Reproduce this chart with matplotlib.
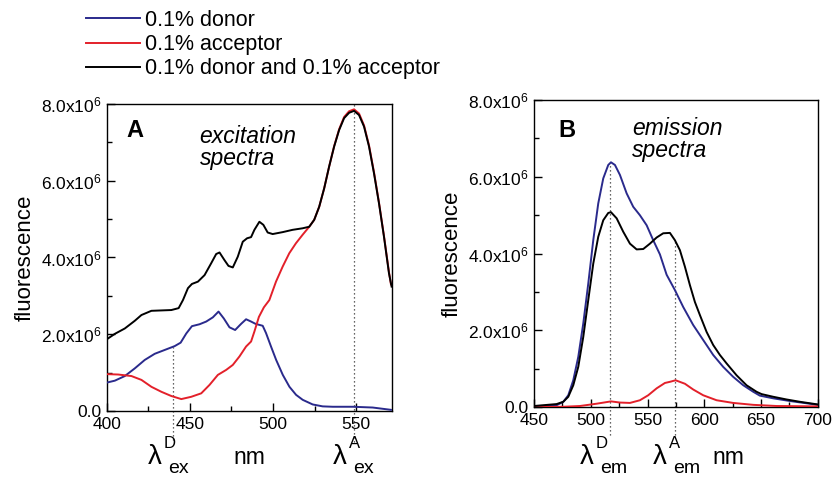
import matplotlib
matplotlib.use('Agg')
import matplotlib.pyplot as plt
from matplotlib.ticker import MultipleLocator, FuncFormatter
import numpy as np

plt.rcParams['font.family'] = ['Liberation Sans', 'DejaVu Sans']
plt.rcParams['mathtext.fontset'] = 'custom'
plt.rcParams['mathtext.rm'] = 'Liberation Sans'
plt.rcParams['mathtext.it'] = 'Liberation Sans:italic'
plt.rcParams['mathtext.default'] = 'regular'

## espectros de excitação (nm, fluorescência em 1e6)
ex_donor_nm = [400, 404.8, 410.8, 416.8, 422.8, 428.8, 434.8, 440.8, 444.4, 447.8, 451.2,
               455.8, 459.8, 463.8, 467.2, 470.4, 473.8, 477.2, 480.8, 483.8, 486.8,
               489.5, 493.8, 495.8, 498.8, 501.9, 505.9, 509.9, 513.9, 517.9, 523.9,
               529.9, 536, 548, 560, 571]
ex_donor = [0.74, 0.79, 0.91, 1.11, 1.33, 1.49, 1.59, 1.69, 1.78, 2.02, 2.21,
            2.26, 2.33, 2.44, 2.59, 2.41, 2.18, 2.11, 2.27, 2.39, 2.33,
            2.27, 2.22, 2.03, 1.68, 1.33, 0.94, 0.63, 0.42, 0.29, 0.17,
            0.12, 0.11, 0.11, 0.09, 0.03]

ex_acc_nm = [400, 406.8, 414.8, 420.8, 426.8, 432.8, 438.8, 444.8, 450.8, 456.8, 461.8,
             466.8, 471.8, 475.8, 479.8, 483.8, 486.8, 488.8, 491.5, 494.5, 497.8,
             501.8, 505.8, 509.8, 513.8, 517.8, 521.8, 524.8, 527.8, 530.8, 533.8,
             536.8, 539.8, 542.8, 545.8, 548.8, 551.8, 554.8, 557.8, 560.8, 563.8,
             566.8, 569.8, 571]
ex_acc = [0.96, 0.95, 0.91, 0.81, 0.63, 0.50, 0.39, 0.31, 0.37, 0.46, 0.68,
          0.94, 1.07, 1.20, 1.42, 1.68, 1.81, 2.07, 2.45, 2.70, 2.89,
          3.37, 3.76, 4.11, 4.37, 4.59, 4.80, 4.98, 5.32, 5.80, 6.37,
          6.90, 7.34, 7.66, 7.81, 7.86, 7.75, 7.44, 6.92, 6.22, 5.43,
          4.56, 3.62, 3.30]

ex_both_nm = [400, 404.8, 410.8, 416.8, 420.8, 426.8, 432.8, 438.8, 443.2, 445.8, 448.8,
              451.2, 454.8, 458.8, 462.8, 465.8, 467.8, 470.8, 473.2, 475.8, 478.8,
              481.8, 484.4, 486.8, 488.8, 491.8, 494.2, 496.8, 499.8, 505.8, 511.8,
              517.8, 521.8, 524.8, 527.8, 530.8, 533.8, 536.8, 539.8, 542.8, 545.8,
              548.8, 551.8, 554.8, 557.8, 560.8, 563.8, 566.8, 569.8, 571.4]
ex_both = [1.87, 2.01, 2.15, 2.35, 2.50, 2.61, 2.62, 2.63, 2.68, 2.89, 3.20,
           3.31, 3.37, 3.54, 3.85, 4.09, 4.13, 3.93, 3.78, 3.74, 4.02,
           4.41, 4.50, 4.53, 4.72, 4.93, 4.85, 4.65, 4.61, 4.66, 4.72,
           4.76, 4.80, 4.98, 5.32, 5.80, 6.37, 6.89, 7.32, 7.63, 7.77,
           7.82, 7.71, 7.41, 6.89, 6.19, 5.41, 4.54, 3.59, 3.24]

## espectros de emissão
em_donor_nm = [450, 455.3, 469.9, 475.8, 480.2, 484.6, 489.0, 493.4, 497.8, 502.2, 506.6,
               511.0, 515.4, 517.8, 521.3, 525.7, 531.6, 537.4, 543.3, 549.2, 555.0,
               560.9, 566.8, 574.1, 581.4, 590.2, 599.0, 607.8, 616.6, 625.4, 634.3,
               643.1, 648.9, 660.7, 675.3, 700]
em_donor = [0.02, 0.02, 0.05, 0.14, 0.31, 0.70, 1.31, 2.18, 3.22, 4.35, 5.31,
            5.96, 6.31, 6.38, 6.31, 6.05, 5.57, 5.22, 5.00, 4.74, 4.35,
            3.98, 3.45, 3.05, 2.61, 2.14, 1.75, 1.36, 1.05, 0.79, 0.57,
            0.40, 0.30, 0.23, 0.16, 0.06]

em_acc_nm = [450, 475.8, 490.5, 505.2, 517.8, 525.7, 534.5, 543.3, 550.6, 558.0, 565.3,
             569.7, 574.7, 582.9, 590.2, 599.0, 610.8, 625.4, 643.1, 663.6, 700]
em_acc = [0.0, 0.01, 0.03, 0.09, 0.15, 0.12, 0.11, 0.18, 0.31, 0.49, 0.63,
          0.66, 0.70, 0.61, 0.46, 0.31, 0.18, 0.11, 0.06, 0.03, 0.02]

em_both_nm = [450, 469.9, 475.8, 480.2, 484.6, 489.0, 493.4, 497.8, 502.2, 506.6, 511.0,
              515.4, 517.8, 522.8, 528.6, 534.5, 540.4, 546.2, 552.1, 558.0, 563.8,
              569.7, 574.1, 578.5, 582.9, 587.3, 591.7, 596.1, 602.0, 607.8, 613.7,
              619.6, 628.4, 637.2, 646.0, 650.4, 660.7, 672.4, 684.1, 700]
em_both = [0.03, 0.08, 0.14, 0.27, 0.57, 1.05, 1.83, 2.79, 3.74, 4.44, 4.87,
           5.06, 5.08, 4.92, 4.57, 4.26, 4.11, 4.12, 4.26, 4.42, 4.53,
           4.54, 4.35, 4.09, 3.66, 3.18, 2.74, 2.40, 1.96, 1.62, 1.36,
           1.14, 0.83, 0.57, 0.40, 0.34, 0.27, 0.20, 0.14, 0.07]

labels = ['0.1% donor', '0.1% acceptor', '0.1% donor and 0.1% acceptor']
colores = ['#2a2a8c', '#e3202a', 'black']

lam_ex_D, lam_ex_A = 440, 549
lam_em_D, lam_em_A = 517, 574.5

escala = 1e6
W, H = 835, 479


def formato_y(v, pos):
    if v == 0:
        return '0.0'
    return f'{v / escala:.1f}x10$^{{6}}$'


def estilo_eixo(ax, xmin, xmax, xmaj, xmin_step):
    ax.set_xlim(xmin, xmax)
    ax.set_ylim(0, 8e6)
    ax.xaxis.set_major_locator(MultipleLocator(xmaj))
    ax.xaxis.set_minor_locator(MultipleLocator(xmin_step))
    ax.yaxis.set_major_locator(MultipleLocator(2e6))
    ax.yaxis.set_minor_locator(MultipleLocator(1e6))
    ax.yaxis.set_major_formatter(FuncFormatter(formato_y))
    ax.tick_params(which='both', direction='in', labelsize=12.5, width=1, pad=4)
    ax.tick_params(which='major', length=6)
    ax.tick_params(which='minor', length=3.5)
    ax.set_ylabel('fluorescence', fontsize=16, labelpad=4)
    for s in ax.spines.values():
        s.set_linewidth(1)


def linha_pontilhada(ax, x, ytopo, ybase):
    ax.plot([x, x], [ybase, ytopo], color='#333333', linestyle=(0, (1, 2.2)),
            linewidth=0.9, clip_on=False, zorder=1)


def rotulo_lambda(x, base, sup, sub):
    # λ com índice superior e inferior, posições em pixels da figura
    fig.text(x / W, 1 - base / H, 'λ', fontsize=20, va='baseline')
    fig.text((x + 16) / W, 1 - (base - 16) / H, sup, fontsize=12, va='baseline')
    fig.text((x + 20) / W, 1 - (base + 9) / H, sub, fontsize=14, va='baseline')


fig = plt.figure(figsize=(W / 100, H / 100), dpi=100)
axA = fig.add_axes([0.128, 0.142, 0.341, 0.641])
axB = fig.add_axes([0.6395, 0.150, 0.340, 0.641])

## painel A
linha_pontilhada(axA, lam_ex_D, np.interp(lam_ex_D, ex_donor_nm, ex_donor) * escala, -0.75e6)
linha_pontilhada(axA, lam_ex_A, 8e6, -0.8e6)
lA = []
for xs, ys, c, lab in zip([ex_donor_nm, ex_acc_nm, ex_both_nm], [ex_donor, ex_acc, ex_both],
                          colores, labels):
    l, = axA.plot(xs, np.array(ys) * escala, color=c, linewidth=1.4, label=lab, zorder=3)
    lA.append(l)
estilo_eixo(axA, 400, 571.4, 50, 25)
axA.text(0.07, 0.892, 'A', transform=axA.transAxes, fontsize=17, fontweight='bold')
axA.text(0.326, 0.873, 'excitation', transform=axA.transAxes, fontsize=16.5, style='italic')
axA.text(0.326, 0.80, 'spectra', transform=axA.transAxes, fontsize=16.5, style='italic')

## painel B
linha_pontilhada(axB, lam_em_D, np.interp(lam_em_D, em_donor_nm, em_donor) * escala, -0.73e6)
linha_pontilhada(axB, lam_em_A, np.interp(lam_em_A, em_both_nm, em_both) * escala, -0.73e6)
for xs, ys, c in zip([em_donor_nm, em_acc_nm, em_both_nm], [em_donor, em_acc, em_both], colores):
    axB.plot(xs, np.array(ys) * escala, color=c, linewidth=1.4, zorder=3)
estilo_eixo(axB, 450, 700, 50, 25)
axB.text(0.085, 0.879, 'B', transform=axB.transAxes, fontsize=17, fontweight='bold')
axB.text(0.345, 0.886, 'emission', transform=axB.transAxes, fontsize=16.5, style='italic')
axB.text(0.345, 0.816, 'spectra', transform=axB.transAxes, fontsize=16.5, style='italic')

## rótulos de comprimento de onda abaixo dos eixos
base = 464
rotulo_lambda(148, base, 'D', 'ex')
rotulo_lambda(333, base, 'A', 'ex')
rotulo_lambda(580, base, 'D', 'em')
rotulo_lambda(653, base, 'A', 'em')
fig.text(233 / W, 1 - base / H, 'nm', fontsize=16.5, va='baseline')
fig.text(712 / W, 1 - base / H, 'nm', fontsize=16.5, va='baseline')

## legenda no topo
fig.legend(handles=lA, loc='upper left', bbox_to_anchor=(86 / W, 1 - 10 / H),
           frameon=False, fontsize=15.5, handlelength=2.5, handletextpad=0.25,
           labelspacing=0.15, borderpad=0, borderaxespad=0)

fig.savefig('out.png', dpi=100)
